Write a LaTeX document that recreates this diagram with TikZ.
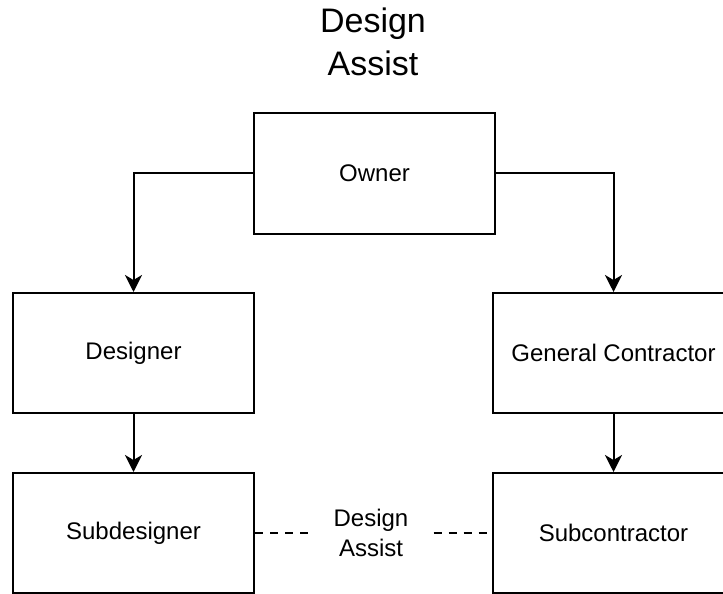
\documentclass[tikz,border=0pt]{standalone}
\usepackage{fontspec}
\setmainfont{Liberation Sans}
\usetikzlibrary{arrows.meta}
\begin{document}
\begin{tikzpicture}[x=1bp,y=-1bp,
  box/.style={draw=black, line width=2bp, minimum width=241bp, minimum height=120bp,
    inner sep=0pt, font=\fontsize{24bp}{30bp}\selectfont},
  link/.style={line width=2bp, -{Stealth[length=17bp,width=17bp,inset=5bp]}},
  assist/.style={line width=2bp, dash pattern=on 8bp off 7bp},
  caption/.style={align=center, anchor=base, inner ysep=0pt}]
\clip (0,0) rectangle (723,594);

% heading (anchored on the baseline of its last line)
\node[caption, font=\fontsize{34bp}{43bp}\selectfont] (title) at (373,76) {Design\\Assist};

% parties
\node[box] (owner) at (374.5,173.5) {Owner};
\node[box] (designer) at (133.5,353) {Designer};
\node[box] (gc) at (613.5,353) {General Contractor};
\node[box] (subd) at (133.5,533) {Subdesigner};
\node[box] (subc) at (613.5,533) {Subcontractor};

% contract lines
\draw[link] (owner.west) -| (designer.north);
\draw[link] (owner.east) -| (gc.north);
\draw[link] (designer.south) -- (subd.north);
\draw[link] (gc.south) -- (subc.north);

% design-assist relationship
\node[caption, font=\fontsize{24bp}{30bp}\selectfont, inner xsep=25bp] (da) at (371,556) {Design\\Assist};
\draw[assist] (subd.east) -- (subd.east -| da.west);
\draw[assist] (subc.west -| da.east) -- (subc.west);
\end{tikzpicture}
\end{document}
